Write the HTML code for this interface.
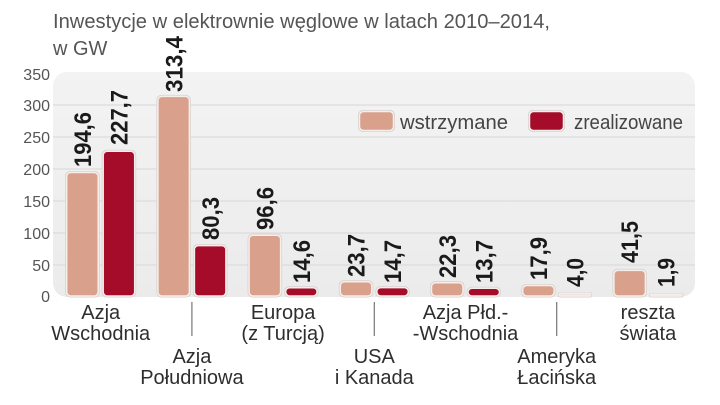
<!DOCTYPE html>
<html>
<head>
<meta charset="utf-8">
<style>
html,body{margin:0;padding:0;background:#fff;}
svg{display:block;}
text{font-family:"Liberation Sans","DejaVu Sans",sans-serif;}
</style>
</head>
<body>
<svg width="720" height="405" viewBox="0 0 720 405" xmlns="http://www.w3.org/2000/svg">
<defs>
<linearGradient id="bg" x1="0" y1="0" x2="0" y2="1">
<stop offset="0" stop-color="#f3f3f3"/>
<stop offset="1" stop-color="#ebebeb"/>
</linearGradient>
</defs>
<rect x="0" y="0" width="720" height="405" fill="#fff"/>
<!-- Title -->
<text x="53" y="28" font-size="20" fill="#555" textLength="497" lengthAdjust="spacingAndGlyphs">Inwestycje w elektrownie węglowe w latach 2010–2014,</text>
<text x="53" y="55" font-size="20" fill="#555">w GW</text>

<!-- Plot background -->
<rect x="53" y="72" width="642" height="225" rx="14" fill="url(#bg)"/>
<!-- gridlines -->
<g stroke="#d7d7d7" stroke-width="1">
<line x1="53" y1="265" x2="695" y2="265"/>
<line x1="53" y1="233" x2="695" y2="233"/>
<line x1="53" y1="201" x2="695" y2="201"/>
<line x1="53" y1="169" x2="695" y2="169"/>
<line x1="53" y1="137" x2="695" y2="137"/>
<line x1="53" y1="105" x2="695" y2="105"/>
</g>
<!-- y labels -->
<g font-size="16" fill="#555" text-anchor="end">
<text x="50" y="302">0</text>
<text x="50" y="271">50</text>
<text x="50" y="239">100</text>
<text x="50" y="207">150</text>
<text x="50" y="175">200</text>
<text x="50" y="143">250</text>
<text x="50" y="111">300</text>
<text x="50" y="80">350</text>
</g>

<!-- Legend -->
<rect x="358" y="110" width="37" height="22" rx="5" fill="#d6d0ce"/>
<rect x="359.5" y="111.5" width="34" height="19" rx="4" fill="#d9a08b" stroke="#f6eeeb" stroke-width="1.5"/>
<text x="400" y="129" font-size="20" fill="#444" textLength="108" lengthAdjust="spacingAndGlyphs">wstrzymane</text>
<rect x="528" y="110" width="37" height="22" rx="5" fill="#d6d0ce"/>
<rect x="529.5" y="111.5" width="34" height="19" rx="4" fill="#a50c2a" stroke="#f6eeeb" stroke-width="1.5"/>
<text x="574" y="129" font-size="20" fill="#444" textLength="109" lengthAdjust="spacingAndGlyphs">zrealizowane</text>

<!-- Bars -->
<g id="bars">
<!-- g0 -->
<rect x="65.2" y="171" width="34.5" height="126.5" rx="5" fill="#d8d2d0"/>
<rect x="66.7" y="172.5" width="31.5" height="123.5" rx="4" fill="#d9a08b" stroke="#f6eeeb" stroke-width="1.5"/>
<rect x="101.7" y="149.8" width="34.5" height="147.7" rx="5" fill="#d8d2d0"/>
<rect x="103.2" y="151.3" width="31.5" height="144.7" rx="4" fill="#a50c2a" stroke="#f6eeeb" stroke-width="1.5"/>
<!-- g1 -->
<rect x="156.4" y="94.9" width="34.5" height="202.6" rx="5" fill="#d8d2d0"/>
<rect x="157.9" y="96.4" width="31.5" height="199.6" rx="4" fill="#d9a08b" stroke="#f6eeeb" stroke-width="1.5"/>
<rect x="192.9" y="244.1" width="34.5" height="53.4" rx="5" fill="#d8d2d0"/>
<rect x="194.4" y="245.6" width="31.5" height="50.4" rx="4" fill="#a50c2a" stroke="#f6eeeb" stroke-width="1.5"/>
<!-- g2 -->
<rect x="247.6" y="233.7" width="34.5" height="63.8" rx="5" fill="#d8d2d0"/>
<rect x="249.1" y="235.2" width="31.5" height="60.8" rx="4" fill="#d9a08b" stroke="#f6eeeb" stroke-width="1.5"/>
<rect x="284.1" y="286.2" width="34.5" height="11.3" rx="5" fill="#d8d2d0"/>
<rect x="285.6" y="287.7" width="31.5" height="8.3" rx="4" fill="#a50c2a" stroke="#f6eeeb" stroke-width="1.5"/>
<!-- g3 -->
<rect x="338.8" y="280.3" width="34.5" height="17.2" rx="5" fill="#d8d2d0"/>
<rect x="340.3" y="281.8" width="31.5" height="14.2" rx="4" fill="#d9a08b" stroke="#f6eeeb" stroke-width="1.5"/>
<rect x="375.3" y="286.1" width="34.5" height="11.4" rx="5" fill="#d8d2d0"/>
<rect x="376.8" y="287.6" width="31.5" height="8.4" rx="4" fill="#a50c2a" stroke="#f6eeeb" stroke-width="1.5"/>
<!-- g4 -->
<rect x="430" y="281.2" width="34.5" height="16.3" rx="5" fill="#d8d2d0"/>
<rect x="431.5" y="282.7" width="31.5" height="13.3" rx="4" fill="#d9a08b" stroke="#f6eeeb" stroke-width="1.5"/>
<rect x="466.5" y="286.7" width="34.5" height="10.8" rx="5" fill="#d8d2d0"/>
<rect x="468" y="288.2" width="31.5" height="7.8" rx="4" fill="#a50c2a" stroke="#f6eeeb" stroke-width="1.5"/>
<!-- g5 -->
<rect x="521.2" y="284" width="34.5" height="13.5" rx="5" fill="#d8d2d0"/>
<rect x="522.7" y="285.5" width="31.5" height="10.5" rx="4" fill="#d9a08b" stroke="#f6eeeb" stroke-width="1.5"/>
<rect x="557.7" y="292" width="34.5" height="5.5" rx="2.5" fill="#d8d2d0"/>
<rect x="559.2" y="293.2" width="31.5" height="2.8" rx="1.4" fill="#ece4e2" stroke="#f6eeeb" stroke-width="1.5"/>
<!-- g6 -->
<rect x="612.4" y="268.9" width="34.5" height="28.6" rx="5" fill="#d8d2d0"/>
<rect x="613.9" y="270.4" width="31.5" height="25.6" rx="4" fill="#d9a08b" stroke="#f6eeeb" stroke-width="1.5"/>
<rect x="648.9" y="293" width="34.5" height="4.5" rx="2" fill="#d8d2d0"/>
<rect x="650.4" y="294.2" width="31.5" height="1.8" rx="0.9" fill="#ece4e2" stroke="#f6eeeb" stroke-width="1.5"/>
</g>

<!-- Value labels (rotated) -->
<g font-size="24" font-weight="bold" fill="#1a1a1a">
<text transform="translate(91,167) rotate(-90)" textLength="55" lengthAdjust="spacingAndGlyphs">194,6</text>
<text transform="translate(127.5,145) rotate(-90)" textLength="55" lengthAdjust="spacingAndGlyphs">227,7</text>
<text transform="translate(182.5,92) rotate(-90)" textLength="56" lengthAdjust="spacingAndGlyphs">313,4</text>
<text transform="translate(219,240) rotate(-90)" textLength="43" lengthAdjust="spacingAndGlyphs">80,3</text>
<text transform="translate(273.5,230) rotate(-90)" textLength="43" lengthAdjust="spacingAndGlyphs">96,6</text>
<text transform="translate(310,283) rotate(-90)" textLength="43" lengthAdjust="spacingAndGlyphs">14,6</text>
<text transform="translate(364.5,277) rotate(-90)" textLength="43" lengthAdjust="spacingAndGlyphs">23,7</text>
<text transform="translate(401,283) rotate(-90)" textLength="43" lengthAdjust="spacingAndGlyphs">14,7</text>
<text transform="translate(456,278) rotate(-90)" textLength="43" lengthAdjust="spacingAndGlyphs">22,3</text>
<text transform="translate(492.5,283) rotate(-90)" textLength="43" lengthAdjust="spacingAndGlyphs">13,7</text>
<text transform="translate(547,280) rotate(-90)" textLength="43" lengthAdjust="spacingAndGlyphs">17,9</text>
<text transform="translate(583.5,287) rotate(-90)" textLength="29" lengthAdjust="spacingAndGlyphs">4,0</text>
<text transform="translate(638,263) rotate(-90)" textLength="42" lengthAdjust="spacingAndGlyphs">41,5</text>
<text transform="translate(674.5,287) rotate(-90)" textLength="29" lengthAdjust="spacingAndGlyphs">1,9</text>
</g>

<!-- Tick lines -->
<g stroke="#777" stroke-width="1.2">
<line x1="191.9" y1="302" x2="191.9" y2="336"/>
<line x1="374.3" y1="302" x2="374.3" y2="336"/>
<line x1="556.7" y1="302" x2="556.7" y2="336"/>
</g>

<!-- Category labels -->
<g font-size="20" fill="#2e2e2e" text-anchor="middle">
<text x="100.7" y="319">Azja</text>
<text x="100.7" y="340">Wschodnia</text>
<text x="191.9" y="363">Azja</text>
<text x="191.9" y="384">Południowa</text>
<text x="283.1" y="319">Europa</text>
<text x="283.1" y="340">(z Turcją)</text>
<text x="374.3" y="363">USA</text>
<text x="374.3" y="384">i Kanada</text>
<text x="465.5" y="319">Azja Płd.-</text>
<text x="465.5" y="340">-Wschodnia</text>
<text x="556.7" y="363">Ameryka</text>
<text x="556.7" y="384">Łacińska</text>
<text x="647.9" y="319">reszta</text>
<text x="647.9" y="340">świata</text>
</g>
</svg>
</body>
</html>
